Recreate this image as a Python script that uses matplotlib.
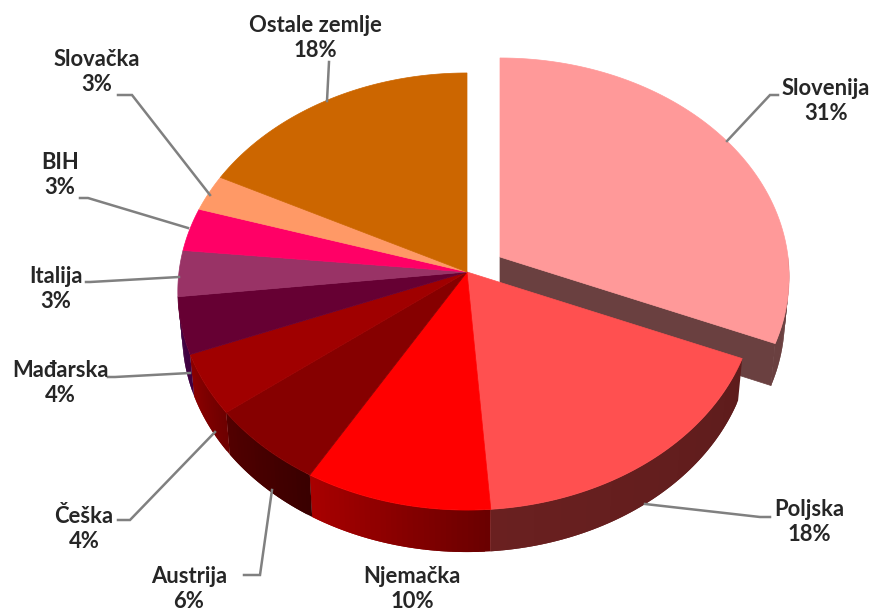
import numpy as np
import matplotlib
matplotlib.use("Agg")
import matplotlib.pyplot as plt
from matplotlib.colors import to_rgb

plt.rcParams['font.family'] = ['Lato', 'DejaVu Sans']

# slices in clockwise order from 12 o'clock
countries = ['Slovenija', 'Poljska', 'Njemačka', 'Austrija', 'Češka',
             'Mađarska', 'Italija', 'BIH', 'Slovačka', 'Ostale zemlje']
shares = [31.3, 17.5, 9.6, 6.1, 4.5, 4.2, 3.4, 3.2, 2.7, 17.5]
shown_pct = [31, 18, 10, 6, 4, 4, 3, 3, 3, 18]

top_colors = ['#FF9999', '#FF5050', '#FF0000', '#860000', '#A00000',
              '#660033', '#993366', '#FF0066', '#FF9966', '#CC6600']
# side wall colour at start and end of each slice (clockwise)
wall_colors = [('#6A4040', '#6A4040'), ('#5E1C1C', '#6A2020'),
               ('#6A0000', '#A80000'), ('#3A0000', '#520000'),
               ('#6E0000', '#8C0000'), ('#400040', '#400040'),
               None, None, None, None]

# label centres and leader lines, in picture pixels
label_pos = [(826, 101), (809, 522), (412, 589), (189, 589), (84, 529),
             (60, 383), (56, 289), (60, 175), (97, 72), (315, 38)]
leaders = [[(727, 141), (770, 95), (778, 95)],
           [(645, 504), (760, 517), (770, 517)],
           None,
           [(272, 490), (260, 575), (244, 575)],
           [(215, 432), (130, 520), (118, 520)],
           [(190, 373), (115, 377), (108, 377)],
           [(179, 277), (90, 282), (86, 282)],
           [(188, 228), (88, 198), (80, 198)],
           [(210, 195), (132, 95), (118, 95)],
           [(327, 101), (329, 62)]]

# pie geometry: perspective view of a circle
cx, cy = 467, 272
A, B, k = 288, 216.8, 0.0893
explode = (33, -15)
depth = 42
rim_scale = 0.985


def rim(theta, c=(cx, cy)):
    w = 1 + k * np.cos(theta)
    return c[0] + A * np.sin(theta) / w, c[1] - B * np.cos(theta) / w


def rim_low(theta, c=(cx, cy)):
    x, y = rim(theta, c)
    return c[0] + (x - c[0]) * rim_scale, y + depth


def draw_wall(t0, t1, cols, c, zorder):
    # wall split in narrow strips to get the shading across it,
    # each strip runs on under the next one so no seams show
    n = max(int(np.degrees(t1 - t0)), 2)
    ts = np.linspace(t0, t1, n + 1)
    c0, c1 = np.array(to_rgb(cols[0])), np.array(to_rgb(cols[1]))
    for i in range(n):
        col = c0 + (c1 - c0) * i / (n - 1)
        tt = np.linspace(ts[i], t1 if i == n - 1 else ts[i + 2], 5)
        xa, ya = rim(tt, c)
        xb, yb = rim_low(tt[::-1], c)
        ax.fill(np.r_[xa, xb], np.r_[ya, yb], facecolor=col,
                edgecolor='none', zorder=zorder)


fig = plt.figure(figsize=(8.74, 6.12), dpi=100)
ax = fig.add_axes([0, 0, 1, 1])
ax.set_xlim(0, 874)
ax.set_ylim(612, 0)
ax.axis('off')

edges = np.r_[0, np.cumsum(shares)] / np.sum(shares) * 2 * np.pi

# exploded slice first: cut face, outer wall, then the top
c_s = (cx + explode[0], cy + explode[1])
t_end = edges[1]
xe, ye = rim(t_end, c_s)
xl, yl = rim_low(t_end, c_s)
ax.fill([c_s[0], xe, xl, c_s[0]], [c_s[1], ye, yl, c_s[1] + depth],
        facecolor=wall_colors[0][0], edgecolor=wall_colors[0][0],
        linewidth=0.5, zorder=1)
draw_wall(np.radians(90), t_end, wall_colors[0], c_s, 1)

tt = np.linspace(edges[0], edges[1], 80)
x, y = rim(tt, c_s)
ax.fill(np.r_[c_s[0], x], np.r_[c_s[1], y], facecolor=top_colors[0],
        edgecolor=top_colors[0], linewidth=0.5, zorder=2)

# front walls of the main pie
for i in range(1, 6):
    draw_wall(edges[i], edges[i + 1], wall_colors[i], (cx, cy), 3)

# top faces of the main pie
for i in range(1, len(shares)):
    tt = np.linspace(edges[i], edges[i + 1], 60)
    x, y = rim(tt)
    ax.fill(np.r_[cx, x], np.r_[cy, y], facecolor=top_colors[i],
            edgecolor=top_colors[i], linewidth=0.5, zorder=4)

# leader lines and labels
for pts in leaders:
    if pts is None:
        continue
    px, py = zip(*pts)
    ax.plot(px, py, color='#808080', linewidth=1.8, zorder=5,
            solid_joinstyle='miter')

for name, pct, pos in zip(countries, shown_pct, label_pos):
    ax.text(pos[0], pos[1], f"{name}\n{pct}%", ha='center', va='center',
            fontsize=15.8, fontweight='bold', color='#262626',
            linespacing=1.22, zorder=6)

fig.savefig("out.png", dpi=100)
